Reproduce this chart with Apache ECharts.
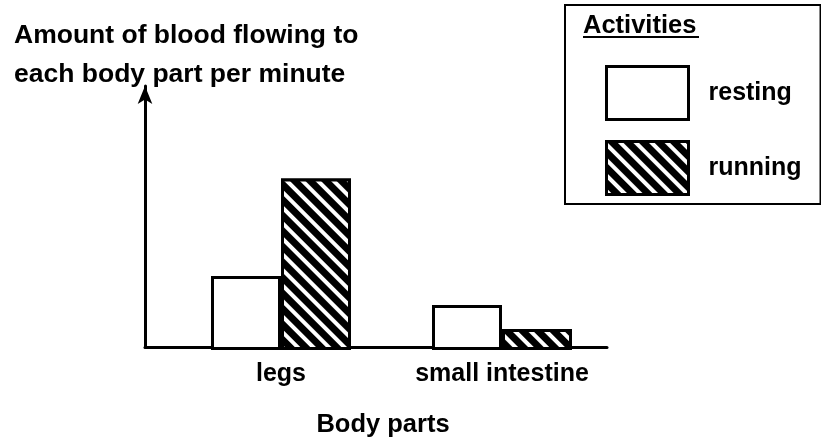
<!DOCTYPE html>
<html>
<head>
    <meta charset="utf-8">
    <title>Blood flow to body parts</title>
    <script src="https://cdn.jsdelivr.net/npm/echarts@6/dist/echarts.min.js"></script>
    <style>
        html, body { margin: 0; padding: 0; background: #fff; }
        #main { width: 821px; height: 443px; }
    </style>
</head>
<body>
<div id="main"></div>
<script>
// data (arbitrary units, axis has no scale)
var bodyParts = ['legs', 'small intestine'];
var resting = [2.8, 1.7];
var running = [6.5, 0.8];
var seriesNames = ['resting', 'running'];

var font = 'Liberation Sans, Arial, sans-serif';
var chart = echarts.init(document.getElementById('main'));

var option = {
    backgroundColor: '#fff',
    animation: false,
    title: {
        text: 'Amount of blood flowing to\neach body part per minute',
        left: 14,
        top: 16,
        padding: 0,
        textStyle: {
            fontFamily: font,
            fontSize: 26.5,
            fontWeight: 'bold',
            color: '#000',
            lineHeight: 39
        }
    },
    graphic: [{
        type: 'text',
        left: 583,
        top: 13,
        style: {
            text: 'Activities',
            font: 'bold 25.5px ' + font,
            fill: '#000'
        }
    }, {
        type: 'rect',
        left: 583,
        top: 36,
        shape: { width: 116, height: 2 },
        style: { fill: '#000' }
    }],
    legend: {
        data: seriesNames,
        orient: 'vertical',
        left: 565,
        top: 5,
        padding: [60, 19, 8, 40],
        itemWidth: 82,
        itemHeight: 53,
        itemGap: 19,
        icon: 'rect',
        borderColor: '#000',
        borderWidth: 2,
        itemStyle: {
            borderColor: '#000',
            borderWidth: 3
        },
        textStyle: {
            fontFamily: font,
            fontSize: 25,
            fontWeight: 'bold',
            color: '#000',
            padding: [0, 0, 0, 15]
        }
    },
    grid: [{
        left: 170.5,
        right: 208.5,
        top: 86,
        bottom: 93
    }, {
        left: 145,
        right: 214,
        top: 86,
        bottom: 93
    }],
    xAxis: [{
        type: 'category',
        gridIndex: 0,
        data: bodyParts,
        axisLine: { show: false },
        axisTick: { show: false },
        axisLabel: {
            interval: 0,
            margin: 12,
            fontFamily: font,
            fontSize: 25,
            fontWeight: 'bold',
            color: '#000'
        }
    }, {
        type: 'value',
        gridIndex: 1,
        min: 0,
        max: 1,
        name: 'Body parts',
        nameLocation: 'middle',
        nameGap: 65,
        nameTextStyle: {
            fontFamily: font,
            fontSize: 25.5,
            fontWeight: 'bold',
            color: '#000',
            padding: [0, 0, 0, 14]
        },
        axisLine: { show: true, lineStyle: { color: '#000', width: 3 } },
        axisTick: { show: false },
        axisLabel: { show: false },
        splitLine: { show: false }
    }],
    yAxis: [{
        type: 'value',
        gridIndex: 0,
        min: 0,
        max: 10,
        show: false
    }, {
        type: 'value',
        gridIndex: 1,
        min: 0,
        max: 1,
        axisLine: {
            show: true,
            symbol: ['none', 'arrow'],
            symbolSize: [11, 18],
            lineStyle: { color: '#000', width: 3 }
        },
        axisTick: { show: false },
        axisLabel: { show: false },
        splitLine: { show: false }
    }],
    series: [{
        name: seriesNames[0],
        type: 'bar',
        xAxisIndex: 0,
        yAxisIndex: 0,
        barWidth: 70,
        barGap: '0%',
        itemStyle: {
            color: '#fff',
            borderColor: '#000',
            borderWidth: 3
        },
        data: resting
    }, {
        name: seriesNames[1],
        type: 'bar',
        xAxisIndex: 0,
        yAxisIndex: 0,
        barWidth: 70,
        barGap: '0%',
        itemStyle: {
            color: '#000',
            borderColor: '#000',
            borderWidth: 3,
            decal: {
                symbol: 'rect',
                symbolSize: 1,
                color: '#fff',
                dashArrayX: [[1, 0]],
                dashArrayY: [4, 7],
                rotation: Math.PI / 4
            }
        },
        data: running
    }]
};
chart.setOption(option);
</script>
</body>
</html>
